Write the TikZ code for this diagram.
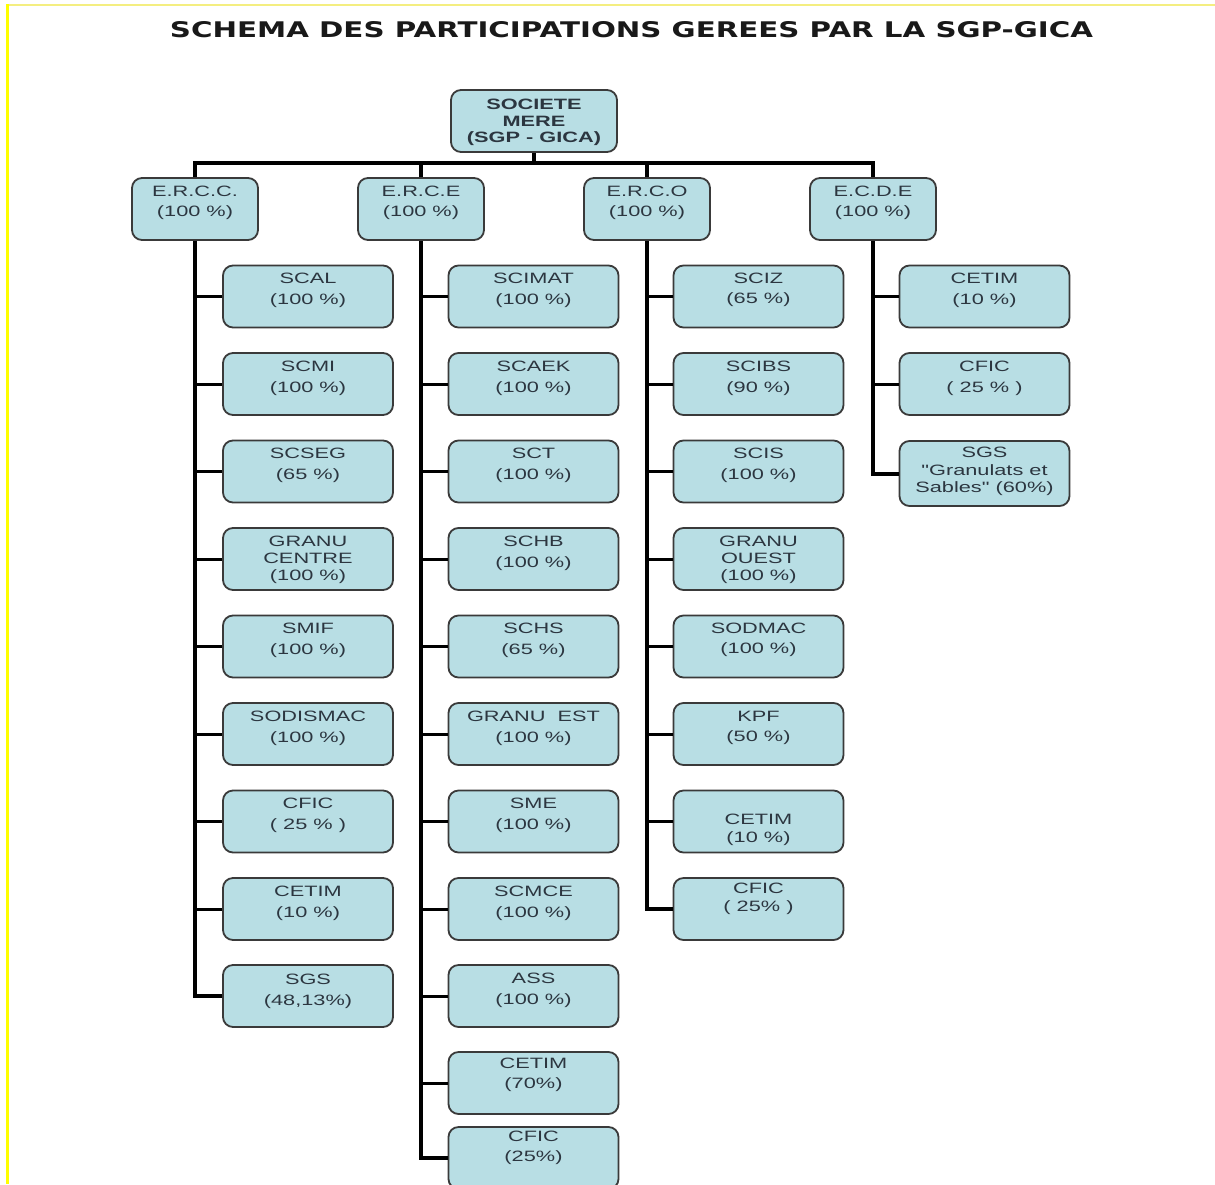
\documentclass[tikz,border=0pt]{standalone}
\usepackage{fontspec}
\usepackage{graphicx}
\setmainfont{Liberation Sans}
\newfontfamily\boxfont[FakeStretch=1.45]{Liberation Sans}
\newfontfamily\titlefont{DejaVu Sans}
\definecolor{boxfill}{HTML}{B8DEE4}
\definecolor{bordercol}{HTML}{3A3A3A}
\definecolor{txtcol}{HTML}{2C3640}
\definecolor{frameyel}{HTML}{FFFF00}
\definecolor{frametop}{HTML}{F4EE80}
% text block inside a box: [first line height]{line spacing}{lines}
\newcommand{\bt}[3][18pt]{\parbox[c][62pt][t]{160pt}{\centering\fontsize{15pt}{#2}\selectfont\rule{0pt}{#1}#3\par}}
\newcommand{\bu}[3][18pt]{\parbox[c][62pt][t]{120pt}{\centering\fontsize{15pt}{#2}\selectfont\rule{0pt}{#1}#3\par}}
\begin{document}
\begin{tikzpicture}[x=1pt,y=-1pt,
  box/.style={draw=bordercol, line width=1.8pt, fill=boxfill, rounded corners=10pt,
    inner sep=0pt, minimum height=62pt, text=txtcol, font=\boxfont},
  cbox/.style={box, minimum width=170pt},
  ebox/.style={box, minimum width=126pt},
  rbox/.style={box, minimum width=166pt, font=\boxfont\bfseries},
  trunk/.style={line width=4pt, black},
  branch/.style={line width=3pt, black}]
\useasboundingbox (0,0) rectangle (1215,1184);
\fill[white] (0,0) rectangle (1215,1184);
\draw[frametop, line width=2pt] (6,5) -- (1215,5);
\draw[frameyel, line width=3pt] (7,4) -- (7,1184);

\node[inner sep=0pt, text=black!90] (title) at (631.5,30)
  {\resizebox{923pt}{16pt}{\titlefont\bfseries SCHEMA DES PARTICIPATIONS GEREES PAR LA SGP-GICA}};

\node[rbox] (root) at (534,121) {\parbox[c][62pt][t]{160pt}{\centering\fontsize{15pt}{16.5pt}\selectfont\bfseries\rule{0pt}{19.5pt}SOCIETE\\MERE\\(SGP - GICA)\par}};

\node[ebox] (e1) at (195,209) {\bu{20pt}{E.R.C.C.\\(100 \%)}};
\node[ebox] (e2) at (421,209) {\bu{20pt}{E.R.C.E\\(100 \%)}};
\node[ebox] (e3) at (647,209) {\bu{20pt}{E.R.C.O\\(100 \%)}};
\node[ebox] (e4) at (873,209) {\bu{20pt}{E.C.D.E\\(100 \%)}};

% column 1
\node[cbox] (c11) at (308,296.5) {\bt{21pt}{SCAL\\(100 \%)}};
\node[cbox] (c12) at (308,384) {\bt{21pt}{SCMI\\(100 \%)}};
\node[cbox] (c13) at (308,471.5) {\bt{21pt}{SCSEG\\(65 \%)}};
\node[cbox] (c14) at (308,559) {\bt{17pt}{GRANU\\CENTRE\\(100 \%)}};
\node[cbox] (c15) at (308,646.5) {\bt{21pt}{SMIF\\(100 \%)}};
\node[cbox] (c16) at (308,734) {\bt{21pt}{SODISMAC\\(100 \%)}};
\node[cbox] (c17) at (308,821.5) {\bt{21pt}{CFIC\\( 25 \% )}};
\node[cbox] (c18) at (308,909) {\bt{21pt}{CETIM\\(10 \%)}};
\node[cbox] (c19) at (308,996) {\bt[19.5pt]{21pt}{SGS\\(48,13\%)}};

% column 2
\node[cbox] (c21) at (533.5,296.5) {\bt{21pt}{SCIMAT\\(100 \%)}};
\node[cbox] (c22) at (533.5,384) {\bt{21pt}{SCAEK\\(100 \%)}};
\node[cbox] (c23) at (533.5,471.5) {\bt{21pt}{SCT\\(100 \%)}};
\node[cbox] (c24) at (533.5,559) {\bt{21pt}{SCHB\\(100 \%)}};
\node[cbox] (c25) at (533.5,646.5) {\bt{21pt}{SCHS\\(65 \%)}};
\node[cbox] (c26) at (533.5,734) {\bt{21pt}{GRANU\ \ EST\\(100 \%)}};
\node[cbox] (c27) at (533.5,821.5) {\bt{21pt}{SME\\(100 \%)}};
\node[cbox] (c28) at (533.5,909) {\bt{21pt}{SCMCE\\(100 \%)}};
\node[cbox] (c29) at (533.5,996) {\bt{21pt}{ASS\\(100 \%)}};
\node[cbox] (c2a) at (533.5,1083) {\bt[16.5pt]{20pt}{CETIM\\(70\%)}};
\node[cbox] (c2b) at (533.5,1158) {\bt[14.5pt]{20pt}{CFIC\\(25\%)}};

% column 3
\node[cbox] (c31) at (758.5,296.5) {\bt{20pt}{SCIZ\\(65 \%)}};
\node[cbox] (c32) at (758.5,384) {\bt{21pt}{SCIBS\\(90 \%)}};
\node[cbox] (c33) at (758.5,471.5) {\bt{21pt}{SCIS\\(100 \%)}};
\node[cbox] (c34) at (758.5,559) {\bt{17pt}{GRANU\\OUEST\\(100 \%)}};
\node[cbox] (c35) at (758.5,646.5) {\bt{20pt}{SODMAC\\(100 \%)}};
\node[cbox] (c36) at (758.5,734) {\bt{20pt}{KPF\\(50 \%)}};
\node[cbox] (c37) at (758.5,821.5) {\bt[34pt]{18pt}{CETIM\\(10 \%)}};
\node[cbox] (c38) at (758.5,909) {\bt[15.5pt]{18pt}{CFIC\\( 25\% )}};

% column 4
\node[cbox] (c41) at (984.5,296.5) {\bt{21pt}{CETIM\\(10 \%)}};
\node[cbox] (c42) at (984.5,384) {\bt{21pt}{CFIC\\( 25 \% )}};
\node[cbox, minimum height=65pt] (c43) at (984.5,473.5) {\bt[15pt]{17.5pt}{SGS\\"Granulats et\\Sables" (60\%)}};

% connectors
\coordinate (bus) at (534,163);
\draw[trunk] (root.south) -- (bus);
\draw[trunk] (e1.north) -- (e1.north |- bus) -- (e4.north |- bus) -- (e4.north);
\draw[trunk] (e2.north) -- (e2.north |- bus);
\draw[trunk] (e3.north) -- (e3.north |- bus);

\draw[trunk] (e1.south) |- (c19.west);
\foreach \i in {1,...,8} \draw[branch] (e1.south |- c1\i.west) -- (c1\i.west);

\draw[trunk] (e2.south) |- (c2b.west);
\foreach \i in {1,...,9,a} \draw[branch] (e2.south |- c2\i.west) -- (c2\i.west);

\draw[trunk] (e3.south) |- (c38.west);
\foreach \i in {1,...,7} \draw[branch] (e3.south |- c3\i.west) -- (c3\i.west);

\draw[trunk] (e4.south) |- (c43.west);
\foreach \i in {1,2} \draw[branch] (e4.south |- c4\i.west) -- (c4\i.west);
\end{tikzpicture}
\end{document}
